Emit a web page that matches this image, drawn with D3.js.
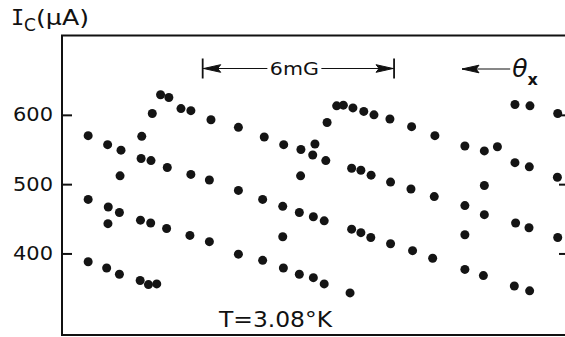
<!DOCTYPE html>
<html>
<head>
<meta charset="utf-8">
<script src="https://cdn.jsdelivr.net/npm/d3@7/dist/d3.min.js"></script>
<style>
  body { margin: 0; background: #fff; }
  text { font-family: "DejaVu Sans", sans-serif; fill: #111; }
</style>
</head>
<body>
<svg id="chart" width="565" height="337"></svg>
<script>
// critical current Ic (uA) against applied field (mG, from the left frame edge)
const fieldMG = [
    0.82, 1.43, 1.85, 2.50, 2.48, 2.79, 3.30, 4.04, 1.82, 2.83, 3.09, 3.35, 3.73, 4.04,
    0.82, 1.45, 1.80, 1.44, 2.46, 2.78, 3.28, 4.01, 0.82, 1.40, 1.80, 2.45, 2.71, 2.97,
    4.67, 5.53, 6.34, 6.95, 7.49, 7.93, 7.86, 8.27, 8.31, 8.61, 8.82, 9.12, 9.46, 9.78,
    9.08, 9.37, 4.62, 5.53, 6.29, 6.92, 7.44, 7.88, 8.22, 7.48, 9.69, 4.62, 5.53, 6.29,
    6.92, 6.94, 7.44, 7.88, 8.22, 9.08, 9.37, 9.68, 9.03,
    10.28, 10.96, 11.69, 12.63, 13.24, 13.65, 14.20, 14.67, 15.54, 14.20, 14.65,
    10.30, 10.94, 11.67, 12.63, 13.24, 13.24, 15.53, 10.30, 10.99, 11.62, 12.63, 12.63,
    13.21, 14.22, 14.64, 15.54, 14.18, 14.66
];
const currentUA = [
    570, 557, 549, 569, 537, 534, 524, 514, 512, 602, 629, 625, 609, 606,
    478, 467, 459, 443, 448, 444, 436, 426, 388, 379, 370, 361, 355, 356,
    593, 582, 568, 557, 550, 558, 542, 534, 589, 613, 614, 610, 605, 600,
    523, 520, 506, 491, 478, 468, 459, 453, 447, 512, 513, 417, 399, 390,
    424, 379, 370, 365, 356, 435, 430, 423, 343,
    594, 583, 570, 555, 548, 554, 615, 613, 602, 531, 525,
    503, 493, 482, 469, 498, 456, 510, 414, 404, 393, 427, 377,
    368, 444, 437, 423, 353, 346
];
const yTicks = [400, 500, 600];
const scaleBar = [4.41, 10.41];      // the 6 mG bracket
const scaleBarLabel = "6mG";
const thetaArrow = [12.54, 14.05];
const tempLabel = "T=3.08°K";

const svg = d3.select("#chart");
const x = d3.scaleLinear().domain([0, 15.8]).range([62, 566]);
const y = d3.scaleLinear().domain([282.3, 714.5]).range([335, 35.5]);
const [x0, x1] = x.range();
const [yb, yt] = y.range();

svg.append("rect").attr("width", 565).attr("height", 337).attr("fill", "#fff");

// frame (right side falls just outside the picture)
svg.append("path")
    .attr("d", `M${x1},${yt}H${x0}V${yb}H${x1}`)
    .attr("fill", "none")
    .attr("stroke", "#111")
    .attr("stroke-width", 2);

// left axis, ticks pointing inwards
const left = svg.append("g")
    .attr("transform", `translate(${x0},0)`)
    .call(d3.axisLeft(y).tickValues(yTicks).tickSize(-10).tickPadding(9));
left.select(".domain").remove();
left.selectAll("line").attr("stroke", "#111").attr("stroke-width", 2);
left.selectAll("text")
    .style("font-size", "19px")
    .attr("fill", "#111")
    .attr("textLength", 40)
    .attr("lengthAdjust", "spacingAndGlyphs");

const right = svg.append("g")
    .attr("transform", `translate(${x1},0)`)
    .call(d3.axisRight(y).tickValues(yTicks).tickSize(-7).tickFormat(""));
right.select(".domain").remove();
right.selectAll("line").attr("stroke", "#111").attr("stroke-width", 2);

// axis title
const title = svg.append("g");
title.append("text").attr("x", 11).attr("y", 25)
    .style("font-family", "'DejaVu Sans Mono', monospace").style("font-size", "22px").text("I");
title.append("text").attr("x", 24).attr("y", 30.5).style("font-size", "17px").text("C");
title.append("text").attr("x", 36).attr("y", 25).style("font-size", "22px")
    .attr("textLength", 53).attr("lengthAdjust", "spacingAndGlyphs").text("(µA)");

// data points
svg.append("g")
    .selectAll("circle")
    .data(fieldMG.map((f, i) => [f, currentUA[i]]))
    .enter()
    .append("circle")
    .attr("cx", d => x(d[0]))
    .attr("cy", d => y(d[1]))
    .attr("r", 4.5)
    .attr("fill", "#141414");

// arrowhead helper: tip at (tx, ty), pointing in direction dir (-1 left, +1 right)
function arrowHead(g, tx, ty, dir) {
    const len = 17, hw = 3.8;
    g.append("path")
        .attr("d", `M${tx},${ty}L${tx - dir * len},${ty - hw}L${tx - dir * (len - 3)},${ty}L${tx - dir * len},${ty + hw}Z`)
        .attr("fill", "#111");
}

// 6 mG bracket
const barY = 68.5;
const bx0 = x(scaleBar[0]), bx1 = x(scaleBar[1]);
const mid = (bx0 + bx1) / 2 - 4;
const bar = svg.append("g").attr("stroke", "#111");
bar.append("line").attr("x1", bx0).attr("x2", bx0).attr("y1", barY - 10).attr("y2", barY + 10).attr("stroke-width", 1.8);
bar.append("line").attr("x1", bx1).attr("x2", bx1).attr("y1", barY - 10).attr("y2", barY + 10).attr("stroke-width", 1.8);
bar.append("line").attr("x1", bx0).attr("x2", mid - 27).attr("y1", barY).attr("y2", barY).attr("stroke-width", 1.2);
bar.append("line").attr("x1", mid + 27).attr("x2", bx1).attr("y1", barY).attr("y2", barY).attr("stroke-width", 1.2);
arrowHead(bar, bx0 + 1, barY, -1);
arrowHead(bar, bx1 - 1, barY, 1);
svg.append("text")
    .attr("x", mid).attr("y", barY + 6.5)
    .attr("text-anchor", "middle")
    .style("font-size", "17.5px")
    .attr("textLength", 49).attr("lengthAdjust", "spacingAndGlyphs")
    .text(scaleBarLabel);

// theta_x arrow
const tg = svg.append("g").attr("stroke", "#111");
tg.append("line").attr("x1", x(thetaArrow[0])).attr("x2", x(thetaArrow[1]))
    .attr("y1", barY + 0.5).attr("y2", barY + 0.5).attr("stroke-width", 1.2);
arrowHead(tg, x(thetaArrow[0]), barY + 0.5, -1);
const th = svg.append("text").attr("x", x(thetaArrow[1]) + 2).attr("y", 77);
th.append("tspan").style("font-size", "25px").style("font-style", "italic").text("θ");
th.append("tspan").attr("dy", 8).attr("dx", 0).style("font-size", "16px").style("font-weight", "bold").text("x");

// temperature
svg.append("text")
    .attr("x", 219).attr("y", 326.5)
    .style("font-size", "21px")
    .attr("textLength", 113).attr("lengthAdjust", "spacingAndGlyphs")
    .text(tempLabel);
</script>
</body>
</html>
